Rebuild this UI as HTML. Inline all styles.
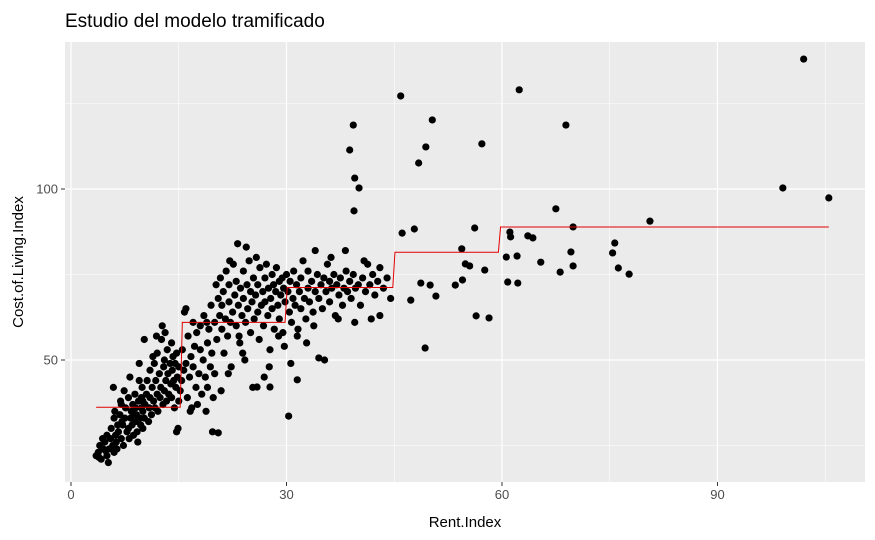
<!DOCTYPE html>
<html><head><meta charset="utf-8"><style>
body{margin:0;background:#fff;}
svg{display:block;font-family:"Liberation Sans",sans-serif;}
</style></head><body>
<svg id="chart" width="875" height="540">
<text x="65" y="27" font-size="19" fill="#000">Estudio del modelo tramificado</text>
<rect x="65" y="42" width="800" height="440" fill="#ebebeb"/>
<g id="grid"></g>
<g id="pts"></g>
<g id="fit"></g>
<g id="axes"></g>
<text x="465" y="527" font-size="15" text-anchor="middle">Rent.Index</text>
<text x="0" y="0" font-size="15" text-anchor="middle" transform="translate(23,262) rotate(-90)">Cost.of.Living.Index</text>
</svg>
<script>
const xTicks=[0,30,60,90];
const xMinor=[15,45,75,105];
const yTicks=[50,100];
const yMinor=[25,75,125];
const stepBreaks=[3.5,15.2,29.8,44.8,59.5,105.5];
const stepLevels=[36.2,61,71.2,81.5,88.9];
const points=[
[102,138],[99.1,100.3],[105.5,97.4],[45.9,127.2],[62.4,129],[50.3,120.2],[39.3,118.7],[68.9,118.7],[57.2,113.2],[49.4,112.3],[38.8,111.4],[48.4,107.6],[39.5,103.2],[40.1,100.3],[39.4,93.6],[67.5,94.2],[80.6,90.6],[69.9,88.9],[47.8,88.3],[46.1,87.1],[56.2,88.6],[60.6,80.1],[61.1,87.4],[61.2,86],[63.6,86.3],[64.3,85.7],[69.6,81.6],[69.9,77.5],[75.7,84.2],[75.4,81.3],[76.2,76.9],[77.7,75.1],[68.1,75.7],[65.4,78.6],[62.1,80.4],[60.8,72.8],[62.2,72.5],[54.4,82.5],[54.9,78.1],[57.6,76.3],[54.5,73.4],[53.5,71.9],[56.4,62.9],[58.2,62.3],[49.3,53.5],[50.8,68.7],[50,71.9],[47.3,67.5],[48.7,72.5],[55.5,77.5],[30.3,33.6],[20.5,28.7],[34.5,50.6],[31.5,44.2],[27.7,42.1],[25.9,42.1],
[3.5,22],[3.8,23],[4,25],[4.2,21],[4.5,24],[4.7,26],[5,22],[5,28],[5.2,20],[5.3,24],[5.5,27],[5.6,30],[5.8,25],[6,23],[6,33],[6.2,28],[6.3,26],[6.5,31],[4.4,27],[3.9,21.5],[4.8,23.5],[5.9,42],[6.1,35],[6.4,24],
[6.6,29],[6.8,34],[7,27],[7,37],[7.2,31],[7.3,25],[7.5,33],[7.6,36],[7.8,29],[8,30],[8,39],[8.1,27],[8.3,33],[8.4,35],[8.5,31],[8.6,37],[8.7,28],[8.9,40],[9,32],[9,36],[9.1,34],[9.2,29],[9.4,38],[9.5,44],[9.6,33],[9.7,31],[9.8,36],[9.9,42],[10,30],[10,35],[10,38],[7.4,41],[8.2,45],[6.9,38],[9.3,26],[9.5,49],[10.2,33],[7.1,32],[8.8,34],[9.8,39],
[10.3,37],[10.5,40],[10.6,44],[10.8,32],[10.9,36],[11,39],[11,47],[11.2,34],[11.3,42],[11.5,38],[11.6,49],[11.7,36],[11.8,44],[12,40],[12,52],[12.1,35],[12.3,46],[12.4,39],[12.5,42],[12.6,56],[12.8,37],[12.9,48],[13,41],[13,50],[13.2,44],[13.3,38],[13.4,53],[13.5,46],[13.6,40],[13.8,49],[13.9,43],[14,39],[14,55],[14.1,47],[14.2,51],[14.3,44],[14.4,36],[14.5,49],[14.6,42],[14.7,52],[14.8,45],[15,48],[15,38],[11.9,57],[12.7,60],[13.1,58],[10.2,56],[11.4,51],[14.9,30],[14.7,29],
[15.2,41],[15.4,44],[15.5,53],[15.7,47],[15.8,64],[16,49],[16,65],[16.2,39],[16.3,57],[16.5,45],[16.7,51],[16.8,36],[17,61],[17,48],[17.2,54],[17.4,42],[17.5,58],[17.6,37],[17.8,46],[18,53],[18,60],[18.2,40],[18.4,50],[18.5,63],[18.7,45],[18.8,35],[19,55],[19,42],[19.2,59],[19.4,48],[19.5,66],[19.6,52],[19.8,39],[20,61],[20,46],[20.2,72],[20.3,56],[16.6,35],[19.7,29],[18.9,61],
[20.5,68],[20.7,63],[20.8,74],[21,59],[21,66],[21.2,70],[21.3,52],[21.5,62],[21.6,76],[21.8,57],[22,67],[22,72],[22.2,61],[22.3,48],[22.5,64],[22.6,78],[22.8,69],[23,60],[23,73],[23.2,84],[23.3,66],[23.5,55],[23.6,71],[23.8,63],[24,68],[24,76],[24.2,50],[24.3,61],[24.5,72],[24.6,65],[24.8,79],[25,58],[25,70],[25.2,67],[25.4,74],[25.5,62],[25.7,69],[25.8,80],[26,64],[26,72],[26.2,56],[26.3,77],[26.5,66],[26.7,70],[26.8,60],[27,74],[27,67],[27.2,78],[27.4,63],[27.5,71],[27.7,53],[27.8,68],[28,75],[28,65],[28.2,72],[28.3,59],[28.5,70],[28.6,77],[28.8,66],[29,73],[29,62],[29.2,69],[29.4,74],[29.5,58],[29.6,71],[29.8,67],[30,75],[24.4,83],[25.3,42],[22.1,79],[23.9,52],[26.9,45],[27.6,48],[28.9,57],[29.7,54],[21.9,46],[20.9,41],[23.4,57],
[30.2,70],[30.4,64],[30.5,73],[30.7,61],[30.9,68],[31,76],[31.2,66],[31.4,72],[31.6,59],[31.8,70],[32,74],[32,65],[32.3,79],[32.5,68],[32.7,62],[33,71],[33,76],[33.2,67],[33.5,73],[33.7,64],[34,70],[34,82],[34.3,75],[34.5,68],[34.8,72],[35,65],[35.2,74],[35.5,70],[35.7,78],[36,67],[36,73],[36.3,71],[36.6,75],[36.8,63],[37,72],[37.3,69],[37.5,74],[37.8,66],[38,71],[38.3,76],[38.5,70],[38.8,73],[39,68],[39.3,75],[39.6,71],[40,72],[40.3,66],[40.6,74],[41,70],[41.3,78],[41.6,72],[42,75],[42.3,69],[42.7,73],[43,63],[43,77],[43.5,71],[44,74],[44.5,68],[35.3,50],[31.5,57],[33.8,60],[37.2,62],[39.5,61],[41.8,62],[36.2,80],[38.2,82],[32.8,55],[30.6,49],[40.8,79]
];
const NS='http://www.w3.org/2000/svg';
const X=v=>71+v*7.183;
const Y=v=>189-(v-100)*3.42;
function mk(t,a,p){const e=document.createElementNS(NS,t);for(const k in a)e.setAttribute(k,a[k]);p.appendChild(e);return e;}
const grid=document.getElementById('grid'),axes=document.getElementById('axes');
xMinor.forEach(v=>{const l=mk('line',{x1:X(v),x2:X(v),y1:42,y2:482,stroke:'#fff','stroke-width':0.6},grid);

});
yMinor.forEach(v=>{const l=mk('line',{x1:65,x2:865,y1:Y(v),y2:Y(v),stroke:'#fff','stroke-width':0.6},grid);

});
xTicks.forEach(v=>{const l=mk('line',{x1:X(v),x2:X(v),y1:42,y2:482,stroke:'#fff','stroke-width':1.2},grid);


const t=mk('line',{x1:X(v),x2:X(v),y1:482,y2:486,stroke:'#333','stroke-width':1},axes);


const tx=mk('text',{x:X(v),y:499,'font-size':13,fill:'#4d4d4d','text-anchor':'middle'},axes);tx.textContent=v;

});
yTicks.forEach(v=>{const l=mk('line',{x1:65,x2:865,y1:Y(v),y2:Y(v),stroke:'#fff','stroke-width':1.2},grid);


const t=mk('line',{x1:61,x2:65,y1:Y(v),y2:Y(v),stroke:'#333','stroke-width':1},axes);


const tx=mk('text',{x:58,y:Y(v)+4.5,'font-size':13,fill:'#4d4d4d','text-anchor':'end'},axes);tx.textContent=v;

});
const pg=document.getElementById('pts');
points.forEach(p=>{const c=mk('circle',{cx:X(p[0]),cy:Y(p[1]),r:3.6,fill:'#000'},pg);

});
let d='';
stepLevels.forEach((lv,i)=>{const x0=i===0?stepBreaks[0]:stepBreaks[i]+0.3;d+=(i===0?'M':'L')+X(x0)+','+Y(lv)+' L'+X(stepBreaks[i+1])+','+Y(lv)+' ';});
const path=mk('path',{d:d,fill:'none',stroke:'#e00000','stroke-width':1},document.getElementById('fit'));


</script>
</body></html>
